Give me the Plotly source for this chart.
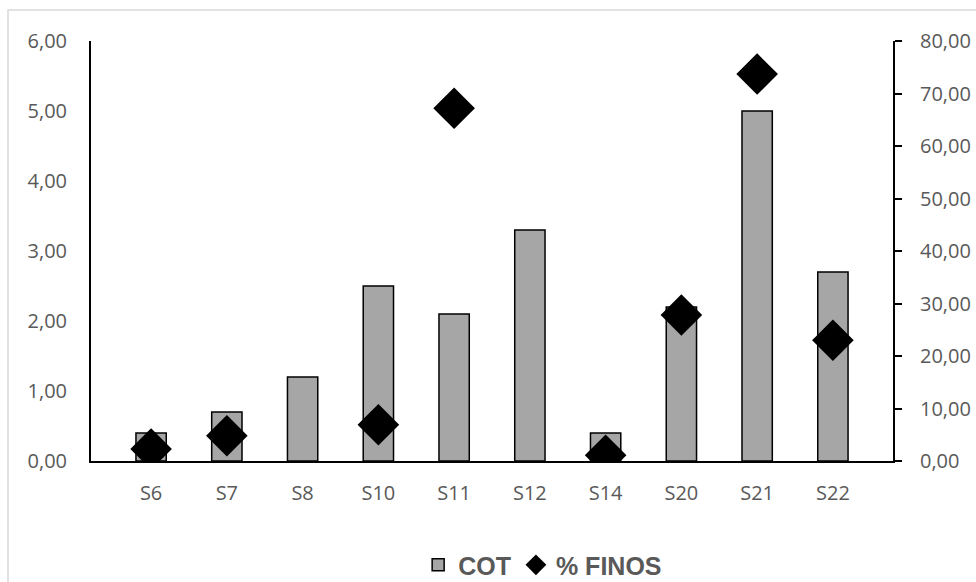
import plotly.graph_objects as go

# Sample stations and measured values
estaciones = ["S6", "S7", "S8", "S10", "S11", "S12", "S14", "S20", "S21", "S22"]
cot = [0.4, 0.7, 1.2, 2.5, 2.1, 3.3, 0.4, 2.2, 5.0, 2.7]
finos = [2.3, 4.8, None, 6.9, 67.2, None, 1.1, 27.8, 73.7, 23.0]

gris_texto = "#595959"
fuente_ejes = dict(family="Open Sans, Lato, sans-serif", size=20, color=gris_texto)

fig = go.Figure()

fig.add_trace(go.Bar(
    x=estaciones, y=cot, name="COT",
    marker=dict(color="#a6a6a6", line=dict(color="black", width=1.5)),
    width=0.4, yaxis="y",
))

fig.add_trace(go.Scatter(
    x=estaciones, y=finos, name="% FINOS", mode="markers",
    marker=dict(symbol="diamond", size=32, color="black"),
    yaxis="y2",
))

fig.update_layout(
    width=976, height=582,
    margin=dict(l=91, r=83, t=41, b=121, autoexpand=False),
    paper_bgcolor="white", plot_bgcolor="white",
    separators=",.",
    showlegend=True,
    legend=dict(
        orientation="h", xref="container", yref="container",
        x=0.556, xanchor="center", y=0.029, yanchor="middle",
        font=dict(family="Liberation Sans, Arial, sans-serif", size=25,
                  color=gris_texto, weight="bold"),
        itemwidth=30, tracegroupgap=0,
    ),
    xaxis=dict(
        showline=True, linecolor="black", linewidth=2,
        ticks="", tickfont=fuente_ejes, ticklabelstandoff=13,
        showgrid=False, zeroline=False, automargin=False,
    ),
    yaxis=dict(
        range=[0, 6], dtick=1, tickformat=".2f",
        showline=True, linecolor="black", linewidth=2,
        ticks="", tickfont=fuente_ejes, ticklabelstandoff=18,
        showgrid=False, zeroline=False, automargin=False,
    ),
    yaxis2=dict(
        range=[0, 80], dtick=10, tickformat=".2f", overlaying="y", side="right",
        showline=True, linecolor="black", linewidth=2,
        ticks="outside", ticklen=7, tickwidth=2, tickcolor="black",
        tickfont=fuente_ejes, ticklabelstandoff=14,
        showgrid=False, zeroline=False, automargin=False,
    ),
    shapes=[dict(
        type="rect", xref="paper", yref="paper",
        x0=-0.1035, x1=1.6, y0=-0.6, y1=1.0738,
        line=dict(color="#d9d9d9", width=1.5), fillcolor="rgba(0,0,0,0)",
        layer="below",
    )],
)

fig.write_html("out.html")
